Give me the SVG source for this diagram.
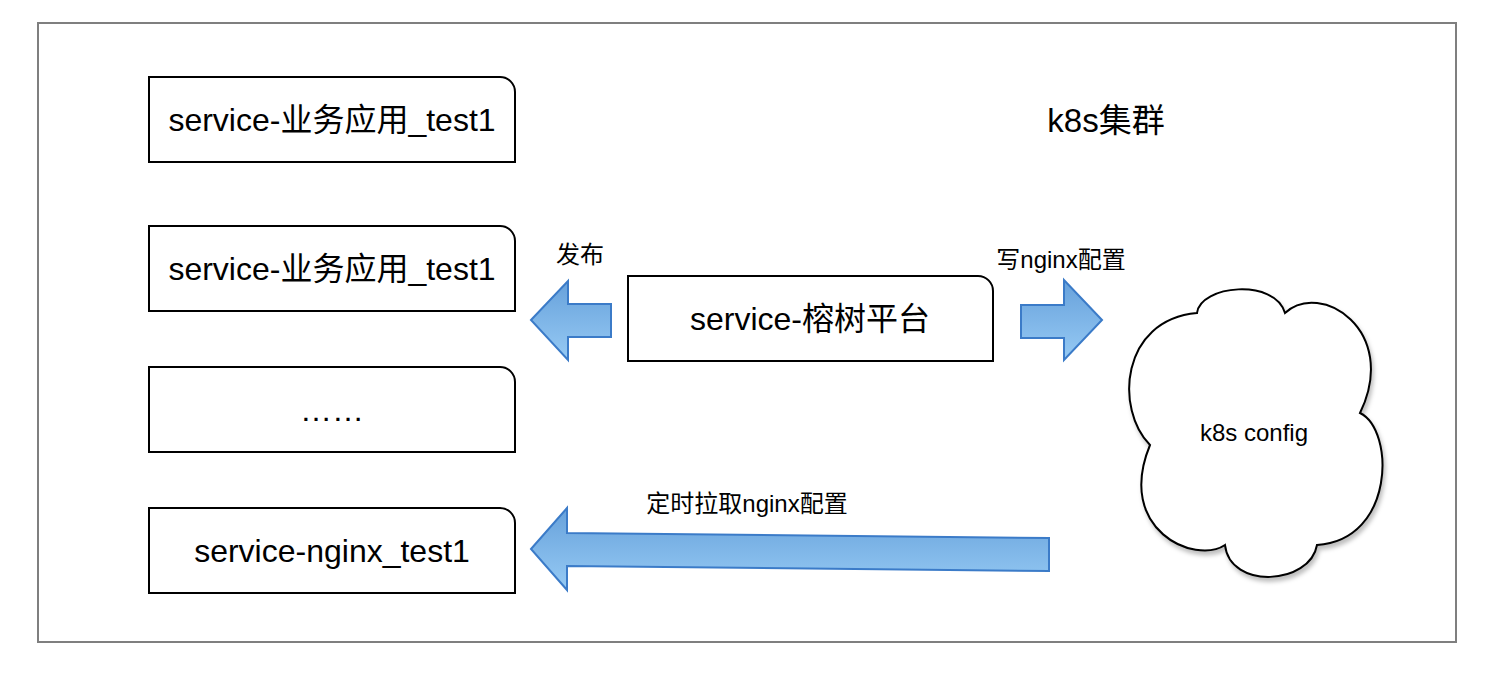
<svg xmlns="http://www.w3.org/2000/svg" width="1506" height="682" viewBox="0 0 1506 682">
  <style>
    .box { fill: #ffffff; stroke: #000000; stroke-width: 2; }
    .frame { fill: #ffffff; stroke: #7f7f7f; stroke-width: 2; }
    .arrow { fill: url(#blueGrad); stroke: #3b7bc8; stroke-width: 2; stroke-linejoin: miter; }
    .t { font-family: "Liberation Sans", "Noto Sans CJK SC", sans-serif; fill: #000000; text-anchor: middle; dominant-baseline: central; }
    .big { font-size: 32px; }
    .lbl { font-size: 24px; }
  </style>
  <defs>
    <linearGradient id="blueGrad" x1="0" y1="0" x2="0" y2="1">
      <stop offset="0" stop-color="#67a1db"/>
      <stop offset="1" stop-color="#96caf4"/>
    </linearGradient>
    <filter id="shadow" x="-10%" y="-10%" width="130%" height="130%">
      <feDropShadow dx="2" dy="4" stdDeviation="2" flood-color="#000000" flood-opacity="0.25"/>
    </filter>
  </defs>

  <rect width="1506" height="682" fill="#ffffff"/>
  <g id="cluster">
    <rect class="frame" x="38" y="23" width="1418" height="619"/>
    <text class="t" x="1106" y="120" font-size="33">k8s集群</text>
  </g>

  <g id="svc-test1-a">
    <path class="box" d="M149,77 H500 A15,15 0 0 1 515,92 V162 H149 Z"/>
    <text class="t big" x="332" y="120">service-业务应用_test1</text>
  </g>
  <g id="svc-test1-b">
    <path class="box" d="M149,226 H500 A15,15 0 0 1 515,241 V311 H149 Z"/>
    <text class="t big" x="332" y="269">service-业务应用_test1</text>
  </g>
  <g id="svc-more">
    <path class="box" d="M149,367 H500 A15,15 0 0 1 515,382 V452 H149 Z"/>
    <text x="332" y="421" font-family="Liberation Sans, sans-serif" font-size="32" text-anchor="middle">……</text>
  </g>
  <g id="svc-nginx">
    <path class="box" d="M149,508 H500 A15,15 0 0 1 515,523 V593 H149 Z"/>
    <text class="t big" x="332" y="551">service-nginx_test1</text>
  </g>
  <g id="svc-rongshu">
    <path class="box" d="M628,276 H978 A15,15 0 0 1 993,291 V361 H628 Z"/>
    <text class="t big" x="810" y="319">service-榕树平台</text>
  </g>
  <g id="k8s-config">
    <path class="box" filter="url(#shadow)" d="M1197,313 C1200,285 1275,278 1285,313 C1320,280 1400,330 1360,413 C1395,430 1395,540 1317,545 C1310,585 1230,590 1225,545 C1195,565 1115,530 1150,445 C1115,410 1120,320 1197,313 Z"/>
    <text class="t lbl" x="1254" y="432">k8s config</text>
  </g>

  <g id="connectors">
    <polygon class="arrow" points="531,320 568,281 568,304 611,304 611,337 568,337 568,360"/>
    <text class="t lbl" x="580" y="254">发布</text>
    <polygon class="arrow" points="1102,320 1064,280 1064,305 1021,305 1021,338 1064,338 1064,360"/>
    <text class="t lbl" x="1061" y="259">写nginx配置</text>
    <polygon class="arrow" points="531,549 567,508 567,533 1049,538 1049,571 567,566 567,590"/>
    <text class="t lbl" x="747" y="503">定时拉取nginx配置</text>
  </g>
</svg>
